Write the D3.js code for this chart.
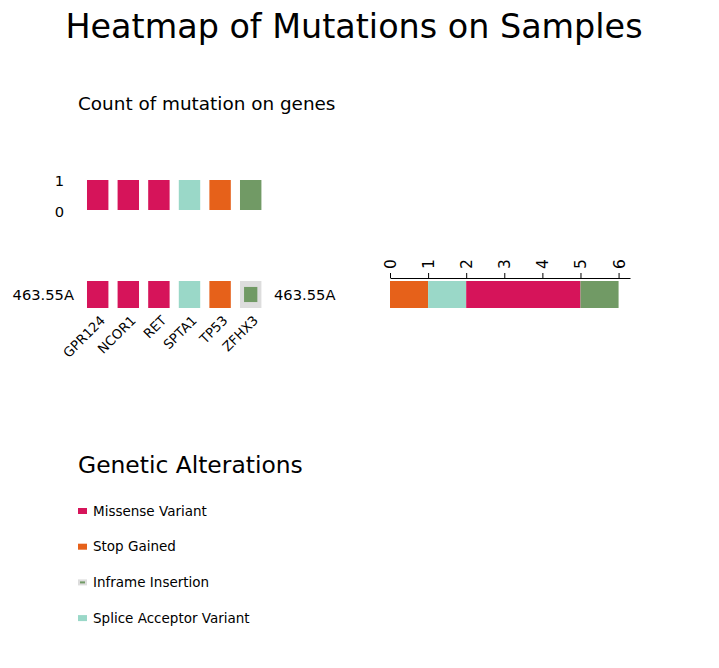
<!DOCTYPE html>
<html><head><meta charset="utf-8">
<script src="https://cdn.jsdelivr.net/npm/d3@7"></script>
<style>body{margin:0;background:#fff}svg{font-family:"DejaVu Sans",sans-serif}</style>
</head><body>
<script>
const genes = ["GPR124","NCOR1","RET","SPTA1","TP53","ZFHX3"];
const geneCounts = [1,1,1,1,1,1];
const geneAlteration = ["Missense Variant","Missense Variant","Missense Variant","Splice Acceptor Variant","Stop Gained","Inframe Insertion"];
const sampleName = "463.55A";
const alterationTypes = ["Missense Variant","Stop Gained","Inframe Insertion","Splice Acceptor Variant"];
const alterationColors = ["#D6145A","#E6611A","#719A65","#9AD8C8"];
const stackOrder = ["Stop Gained","Splice Acceptor Variant","Missense Variant","Inframe Insertion"];
const stackCounts = [1,1,3,1];
const countTicks = [0,1,2,3,4,5,6];

const W=719,H=668;
const svg=d3.select("body").append("svg").attr("width",W).attr("height",H);
const color=d3.scaleOrdinal().domain(alterationTypes).range(alterationColors);

svg.append("text").attr("x",354).attr("y",38).attr("text-anchor","middle").attr("font-size",33.4).text("Heatmap of Mutations on Samples");
svg.append("text").attr("x",78).attr("y",110).attr("font-size",18.4).text("Count of mutation on genes");

const x=d3.scaleBand().domain(genes).range([82.4,266]).paddingInner(0.3).paddingOuter(0.15);
const yTop=d3.scaleLinear().domain([0,1]).range([210,180]);

svg.selectAll(".cbar").data(genes).join("rect")
 .attr("x",g=>x(g)).attr("width",x.bandwidth())
 .attr("y",(g,i)=>yTop(geneCounts[i])).attr("height",(g,i)=>yTop(0)-yTop(geneCounts[i]))
 .attr("fill",(g,i)=>color(geneAlteration[i]));
svg.selectAll(".ylab").data([0,1]).join("text")
 .attr("x",64).attr("y",d=>yTop(d)+(d===0?2:1)).attr("dy","0.35em").attr("text-anchor","end").attr("font-size",14.7).text(d=>d);

// heatmap row
const yRow=d3.scaleBand().domain([sampleName]).range([281,308]);
svg.selectAll(".cell").data(genes).join("rect")
 .attr("x",g=>x(g)).attr("width",x.bandwidth())
 .attr("y",yRow(sampleName)).attr("height",yRow.bandwidth())
 .attr("fill",(g,i)=>geneAlteration[i]==="Inframe Insertion"?"#DDDDDD":color(geneAlteration[i]));
svg.selectAll(".inner").data(genes.filter((g,i)=>geneAlteration[i]==="Inframe Insertion")).join("rect")
 .attr("x",g=>x(g)+x.bandwidth()*0.19).attr("width",x.bandwidth()*0.62)
 .attr("y",yRow(sampleName)+yRow.bandwidth()*0.22).attr("height",yRow.bandwidth()*0.56)
 .attr("fill",color("Inframe Insertion"));
svg.append("text").attr("x",74).attr("y",yRow(sampleName)+yRow.bandwidth()/2).attr("dy","0.35em").attr("text-anchor","end").attr("font-size",14.7).text(sampleName);
svg.append("text").attr("x",274).attr("y",yRow(sampleName)+yRow.bandwidth()/2).attr("dy","0.35em").attr("font-size",14.7).text(sampleName);
svg.selectAll(".glab").data(genes).join("text")
 .attr("transform",g=>`translate(${x(g)+x.bandwidth()/2+5},${318}) rotate(-45)`)
 .attr("text-anchor","end").attr("dy","0.35em").attr("font-size",13.2).text(g=>g);

// stacked bar
const xc=d3.scaleLinear().domain([0,6.3]).range([390,630]);
let acc=0;
const segs=stackOrder.map((t,i)=>{const s={t,x0:acc,x1:acc+stackCounts[i]};acc+=stackCounts[i];return s;});
svg.selectAll(".seg").data(segs).join("rect")
 .attr("x",d=>xc(d.x0)).attr("width",d=>xc(d.x1)-xc(d.x0))
 .attr("y",yRow(sampleName)).attr("height",yRow.bandwidth())
 .attr("fill",d=>color(d.t));
const ax=svg.append("g").attr("transform","translate(0,278)")
 .call(d3.axisTop(xc).tickValues(countTicks).tickFormat(d3.format("d")).tickSize(5).tickSizeOuter(0));
ax.select(".domain").attr("stroke","#000");
ax.selectAll(".tick line").attr("stroke","#000");
ax.selectAll(".tick text").attr("font-family","DejaVu Sans").attr("font-size",15.5).attr("fill","#000")
 .attr("transform","rotate(-90)").attr("text-anchor","start").attr("x",9).attr("y",0).attr("dy","0.35em");

// legend
svg.append("text").attr("x",78).attr("y",473).attr("font-size",23.4).text("Genetic Alterations");
const lg=svg.selectAll(".lg").data(alterationTypes).join("g").attr("transform",(d,i)=>`translate(78,${511+i*35.7})`);
lg.append("rect").attr("x",0).attr("y",-3).attr("width",9).attr("height",6)
 .attr("fill",d=>d==="Inframe Insertion"?"#DDDDDD":color(d));
lg.filter(d=>d==="Inframe Insertion").append("rect").attr("x",2).attr("y",-1).attr("width",5).attr("height",2).attr("fill",color("Inframe Insertion"));
lg.append("text").attr("x",15).attr("dy","0.35em").attr("font-size",13.5).text(d=>d);
</script>
</body></html>
